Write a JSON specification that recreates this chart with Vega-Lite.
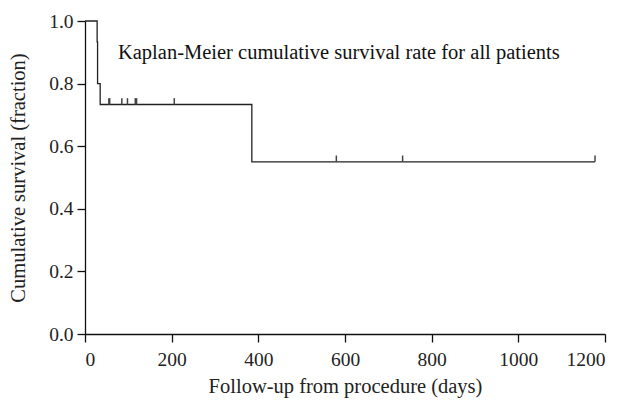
{
  "$schema": "https://vega.github.io/schema/vega-lite/v6.json",
  "width": 520,
  "height": 313,
  "autosize": "none",
  "padding": {"left": 85, "top": 21, "right": 22, "bottom": 71},
  "background": "white",
  "config": {
    "view": {"stroke": null},
    "font": "Liberation Serif",
    "axis": {
      "grid": false,
      "domainColor": "#111",
      "domainWidth": 1.3,
      "tickColor": "#111",
      "tickWidth": 1.3,
      "tickSize": 8,
      "labelFont": "Liberation Serif",
      "labelFontSize": 19.5,
      "labelColor": "#222",
      "titleFont": "Liberation Serif",
      "titleFontSize": 20.5,
      "titleFontWeight": "normal",
      "titleColor": "#222"
    }
  },
  "datasets": {
    "curve": [
      {"day": 0, "survival": 1.0},
      {"day": 28, "survival": 0.9333},
      {"day": 29, "survival": 0.8},
      {"day": 35, "survival": 0.7333},
      {"day": 385, "survival": 0.55},
      {"day": 1177, "survival": 0.55}
    ],
    "censored": [
      {"day": 55, "survival": 0.7333},
      {"day": 57, "survival": 0.7333},
      {"day": 85, "survival": 0.7333},
      {"day": 98, "survival": 0.7333},
      {"day": 116, "survival": 0.7333},
      {"day": 119, "survival": 0.7333},
      {"day": 206, "survival": 0.7333},
      {"day": 580, "survival": 0.55},
      {"day": 733, "survival": 0.55},
      {"day": 1177, "survival": 0.55}
    ],
    "note": [
      {"day": 76, "survival": 0.898, "label": "Kaplan-Meier cumulative survival rate for all patients"}
    ]
  },
  "layer": [
    {
      "data": {"name": "curve"},
      "mark": {"type": "line", "interpolate": "step-after", "color": "#222", "strokeWidth": 1.3},
      "encoding": {
        "x": {
          "field": "day", "type": "quantitative",
          "scale": {"domain": [0, 1200], "nice": false},
          "axis": {"values": [0, 200, 400, 600, 800, 1000, 1200], "format": "d", "title": "Follow-up from procedure (days)", "labelPadding": 8, "titlePadding": 8}
        },
        "y": {
          "field": "survival", "type": "quantitative",
          "scale": {"domain": [0, 1], "nice": false},
          "axis": {"values": [0, 0.2, 0.4, 0.6, 0.8, 1.0], "format": ".1f", "title": "Cumulative survival (fraction)", "labelPadding": 4, "titlePadding": 20}
        }
      }
    },
    {
      "data": {"name": "censored"},
      "mark": {"type": "point", "shape": "M0,0L0,-1", "size": 160, "filled": false, "color": "#444", "strokeWidth": 1.5, "opacity": 1},
      "encoding": {
        "x": {"field": "day", "type": "quantitative"},
        "y": {"field": "survival", "type": "quantitative"}
      }
    },
    {
      "data": {"name": "note"},
      "mark": {"type": "text", "align": "left", "baseline": "middle", "font": "Liberation Serif", "fontSize": 20.5, "color": "#111"},
      "encoding": {
        "x": {"field": "day", "type": "quantitative"},
        "y": {"field": "survival", "type": "quantitative"},
        "text": {"field": "label"}
      }
    }
  ]
}
